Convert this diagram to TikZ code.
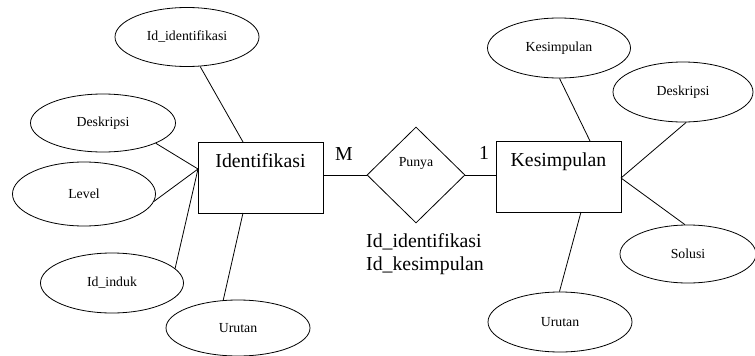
\documentclass[tikz,border=0pt]{standalone}
\usepackage{fontspec}
\setmainfont{Liberation Serif}
\usetikzlibrary{shapes.geometric}
\begin{document}
\begin{tikzpicture}[x=1pt,y=-1pt,
  attr/.style={ellipse,draw,line width=0.8pt,inner sep=0pt,font=\fontsize{13.8}{15}\selectfont},
  entity/.style={rectangle,draw,line width=0.8pt,minimum width=125pt,minimum height=71pt,inner sep=0pt},
  rel/.style={diamond,draw,line width=0.8pt,minimum width=98pt,minimum height=96pt,inner sep=0pt},
  big/.style={font=\fontsize{19.8}{23}\selectfont,inner sep=0pt},
  conn/.style={line width=0.8pt}]
\useasboundingbox (0,0) rectangle (755,356);
% entities
\node[entity] (ident) at (260.5,177.5) {};
\node[big,anchor=base] (identT) at (260.5,167) {Identifikasi};
\node[entity] (kesim) at (558.5,176.5) {};
\node[big,anchor=base] (kesimT) at (558.5,166) {Kesimpulan};
% relation
\node[rel] (punya) at (416,175) {};
\node[font=\fontsize{13.8}{15}\selectfont,inner sep=0pt] (punyaT) at (416,163) {Punya};
% attributes left
\node[attr,minimum width=144pt,minimum height=59pt] (aidid) at (187,37) {Id\_identifikasi};
\node[attr,minimum width=145pt,minimum height=58pt] (adesL) at (103,123) {Deskripsi};
\node[attr,minimum width=143pt,minimum height=64pt] (alevel) at (84,194) {Level};
\node[attr,minimum width=143pt,minimum height=60pt] (ainduk) at (112,283) {Id\_induk};
\node[attr,minimum width=144pt,minimum height=56pt] (aurutL) at (238,328) {Urutan};
% attributes right
\node[attr,minimum width=143pt,minimum height=60pt] (akes) at (559,48) {Kesimpulan};
\node[attr,minimum width=140pt,minimum height=60pt] (adesR) at (683,92) {Deskripsi};
\node[attr,minimum width=136pt,minimum height=58pt] (asol) at (688,254) {Solusi};
\node[attr,minimum width=144pt,minimum height=60pt] (aurutR) at (560,322) {Urutan};
% connection points on entity borders
\coordinate (pLeft) at (198,169);
\coordinate (pTopL) at (243,142);
\coordinate (pBotL) at (243,213);
\coordinate (pRight) at (621,178);
\coordinate (pTopR) at (590,141);
\coordinate (pBotR) at (581,212);
% connectors
\draw[conn] (aidid.-66) -- (pTopL);
\draw[conn] (adesL.-21) -- (pLeft);
\draw[conn] (alevel.-6) -- (pLeft);
\draw[conn] (ainduk.13) -- (pLeft);
\draw[conn] (aurutL.118) -- (pBotL);
\draw[conn] (akes.-89) -- (pTopR);
\draw[conn] (adesR.-84) -- (pRight);
\draw[conn] (asol.96) -- (pRight);
\draw[conn] (aurutR.91) -- (pBotR);
\draw[conn] (ident.east |- punya.west) -- (punya.west);
\draw[conn] (punya.east) -- (kesim.west |- punya.east);
% cardinalities
\node[big] (cardM) at (344,154) {M};
\node[big] (card1) at (484,153) {1};
% relation attributes
\node[big,anchor=north west,align=left] (keys) at (366,233) {Id\_identifikasi\\Id\_kesimpulan};
\end{tikzpicture}
\end{document}
